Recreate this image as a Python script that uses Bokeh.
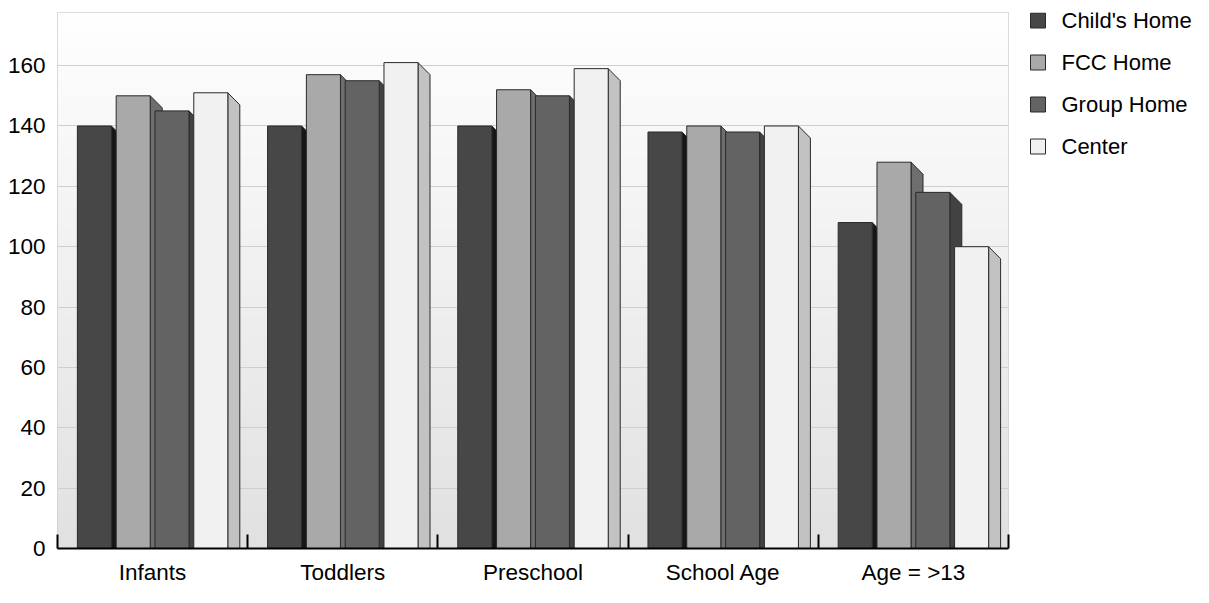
import numpy as np
from bokeh.plotting import figure
from bokeh.layouts import row
from bokeh.models import Range1d, FixedTicker, ColumnDataSource
from bokeh.core.properties import value
from bokeh.embed import file_html
from bokeh.resources import INLINE

# ---- data ----
categories = ["Infants", "Toddlers", "Preschool", "School Age", "Age = >13"]
series = ["Child's Home", "FCC Home", "Group Home", "Center"]
childs_home = [140, 140, 140, 138, 108]
fcc_home = [150, 157, 152, 140, 128]
group_home = [145, 155, 150, 138, 118]
center = [151, 161, 159, 140, 100]
y_ticks = [0, 20, 40, 60, 80, 100, 120, 140, 160]

values = [childs_home, fcc_home, group_home, center]
front_colors = ["#474747", "#a9a9a9", "#636363", "#f1f1f1"]
side_colors = ["#161616", "#6e6e6e", "#424242", "#c2c2c2"]
offsets = [-0.306, -0.102, 0.102, 0.306]
bar_w = 0.179
dx = 0.063   # 3D depth in x (data units)
dy = 4.0     # 3D depth in y (data units)
YMAX = 177.6

FONT = "Liberation Sans"

W, H = 1193, 587
PW = 1020
FRAME_TOP, FRAME_BOTTOM = 12, 548
p = figure(width=PW, height=H, x_range=Range1d(0.5, 5.5), y_range=Range1d(0, YMAX),
           output_backend="svg", toolbar_location=None,
           min_border_left=57, min_border_top=FRAME_TOP, min_border_bottom=H - FRAME_BOTTOM,
           min_border_right=PW - 1008)
p.background_fill_color = "white"
p.border_fill_color = "white"
p.outline_line_color = "#d0d0d0"
p.outline_line_width = 1

# background gradient in plot area
N = 256
t = np.linspace(0, 1, N)
lo, hi = 0xe1, 0xff
g = (lo + (hi - lo) * t).astype(np.uint32)
img = np.zeros((N, 1), dtype=np.uint32)
img[:, 0] = (255 << 24) | (g << 16) | (g << 8) | g
p.image_rgba(image=[img], x=0.5, y=0, dw=5, dh=YMAX, level="image")

# grid
p.xgrid.grid_line_color = None
p.ygrid.grid_line_color = "#cfcfcf"
p.ygrid.grid_line_width = 1
p.yaxis.ticker = FixedTicker(ticks=y_ticks)

xc = np.arange(1, len(categories) + 1)
for vals, off, fc, sc in zip(values, offsets, front_colors, side_colors):
    v = np.array(vals, dtype=float)
    left = xc + off - bar_w / 2
    right = xc + off + bar_w / 2
    xs = [[r, r, r + dx, r + dx] for r in right]
    ys = [[0, vv, vv - dy, 0] for vv in v]
    p.patches(xs=xs, ys=ys, fill_color=sc, line_color="#2a2a2a", line_width=1)
    src = ColumnDataSource(dict(left=left, right=right, top=v, bottom=np.zeros_like(v)))
    p.quad(left="left", right="right", top="top", bottom="bottom", source=src,
           fill_color=fc, line_color="#2a2a2a", line_width=1)

# x axis
p.xaxis.ticker = FixedTicker(ticks=list(xc), minor_ticks=[i + 0.5 for i in range(0, len(categories) + 1)])
p.xaxis.major_label_overrides = {int(i): c for i, c in zip(xc, categories)}
p.xaxis.axis_line_color = "black"
p.xaxis.axis_line_width = 2
p.xaxis.major_tick_line_color = None
p.xaxis.major_tick_in = 0
p.xaxis.major_tick_out = 0
p.xaxis.minor_tick_line_color = "black"
p.xaxis.minor_tick_line_width = 2
p.xaxis.minor_tick_in = 14
p.xaxis.minor_tick_out = 0
p.xaxis.major_label_standoff = 11
p.xaxis.major_label_text_font = FONT
p.xaxis.major_label_text_font_size = "22.5px"
p.xaxis.major_label_text_color = "black"

# y axis
p.yaxis.axis_line_color = None
p.yaxis.major_tick_line_color = None
p.yaxis.minor_tick_line_color = None
p.yaxis.major_tick_out = 0
p.yaxis.major_tick_in = 0
p.yaxis.major_label_standoff = 12
p.yaxis.major_label_text_font = FONT
p.yaxis.major_label_text_font_size = "22.5px"
p.yaxis.major_label_text_color = "black"

# legend drawn in a side figure whose ranges are in pixels (y downward from frame top)
LW = W - PW
q = figure(width=LW, height=H, x_range=Range1d(0, LW),
           y_range=Range1d(FRAME_BOTTOM - FRAME_TOP, 0),
           output_backend="svg", toolbar_location=None, min_border=0,
           min_border_top=FRAME_TOP, min_border_bottom=H - FRAME_BOTTOM)
q.axis.visible = False
q.grid.visible = False
q.outline_line_color = None
q.background_fill_color = "white"
q.border_fill_color = "white"

ROW0, ROW_STEP = 8, 42
leg_y = [ROW0 + ROW_STEP * i for i in range(len(series))]
leg = ColumnDataSource(dict(y=leg_y, label=series, color=front_colors))
q.rect(x=17.5, y="y", width=15, height=15, width_units="screen", height_units="screen",
       source=leg, fill_color="color", line_color="#2a2a2a", line_width=1)
q.text(x=41, y="y", text="label", source=leg, text_font=value(FONT), text_font_size="22px",
       text_baseline="middle", text_align="left", text_color="black")

layout = row(p, q, spacing=0)
open("out.html", "w").write(file_html(layout, INLINE))
